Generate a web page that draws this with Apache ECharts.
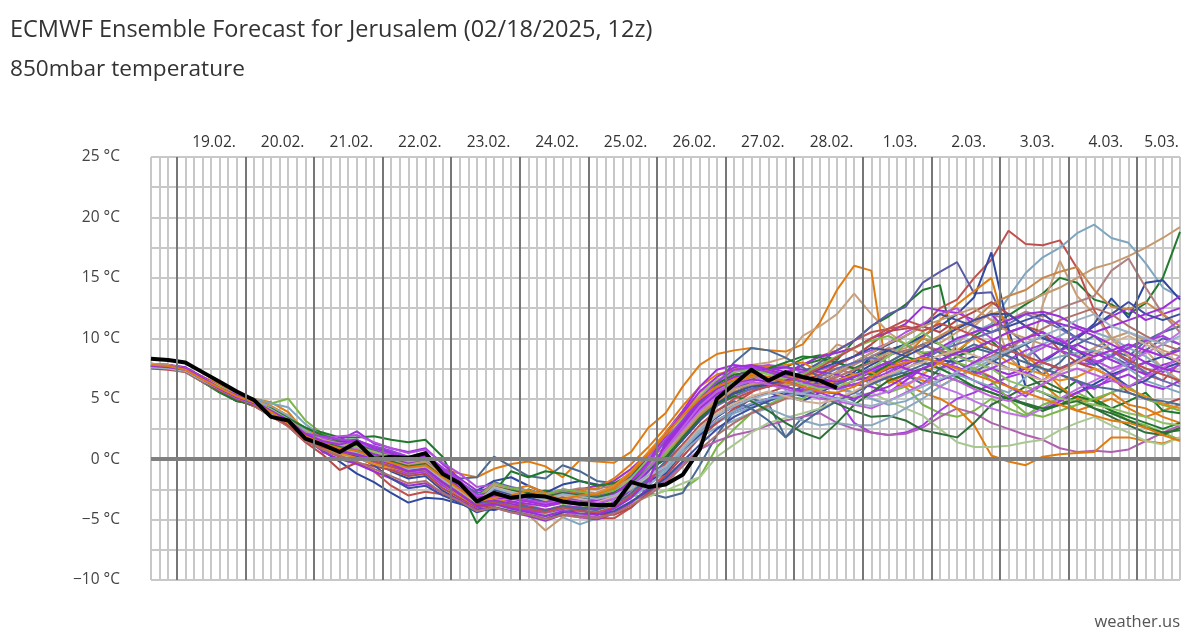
<!DOCTYPE html>
<html><head><meta charset="utf-8">
<style>html,body{margin:0;padding:0;background:#fff}#chart{width:1200px;height:640px}</style>
<script src="https://cdn.jsdelivr.net/npm/echarts@6/dist/echarts.min.js"></script>
</head><body><div id="chart"></div>
<script>
// Hours since 18.02. 00:00 (6-hourly steps)
const hours = [15,21,27,33,39,45,51,57,63,69,75,81,87,93,99,105,111,117,123,129,135,141,147,153,159,165,171,177,183,189,195,201,207,213,219,225,231,237,243,249,255,261,267,273,279,285,291,297,303,309,315,321,327,333,339,345,351,357,363,369,375];
const dayLabels = ['19.02.','20.02.','21.02.','22.02.','23.02.','24.02.','25.02.','26.02.','27.02.','28.02.','1.03.','2.03.','3.03.','4.03.','5.03.'];
const dayLabelHours = [36,60,84,108,132,156,180,204,228,252,276,300,324,348,367.5];
const dayBoundaryHours = [24,48,72,96,120,144,168,192,216,240,264,288,312,336,360];

const control = [8.3,8.2,8.0,7.2,6.4,5.6,4.9,3.5,3.2,1.7, 1.2,0.6,1.4,0.0,0.2,0.1,0.5,-1.2,-2.0,-3.5, -2.8,-3.2,-3.0,-3.1,-3.5,-3.7,-3.8,-3.8,-1.9,-2.3, -2.1,-1.3,0.8,5.0,6.2,7.4,6.5,7.2,6.8,6.5, 5.9];

const m01 = [7.7,7.8,7.5,6.8,6.1,5.4,5.0,4.7,3.9,2.2, 1.4,0.9,1.0,0.5,-0.3,-0.5,-0.2,-0.8,-1.2,-1.5, -0.8,-0.4,-0.2,-0.6,-1.5,-0.1,-0.2,-0.3,0.6,2.6, 3.8,6.0,7.8,8.7,9.0,9.2,9.0,8.9,9.5,11.3, 14.0,16.0,15.6,6.3,7.0,6.5,6.0,6.8,7.5,6.8, 6.0,5.5,6.2,5.0,4.0,4.5,5.0,4.2,3.5,4.0,4.5];
const m02 = [7.6,7.7,7.5,6.7,6.0,5.2,4.8,4.6,5.0,3.2, 2.1,1.6,1.2,0.3,-0.2,-0.6,-0.3,-1.5,-2.3,-3.4, -3.0,-3.6,-3.9,-4.3,-3.8,-4.0,-3.9,-3.5,-3.0,-3.1, -2.6,-2.5,-1.5,1.0,2.5,3.8,4.5,5.2,5.0,5.8, 6.2,7.0,6.5,5.5,6.0,4.5,3.8,3.5,4.0,5.0, 4.2,3.6,4.5,5.0,5.5,4.8,4.0,3.2,2.8,2.2,1.6];
const m03 = [7.9,7.8,7.5,6.6,5.8,5.2,4.7,4.0,3.2,2.0, 1.8,1.5,1.6,1.0,0.6,0.2,0.0,-0.8,-1.6,-1.5, 0.2,-0.6,-1.4,-1.6,-0.5,-1.0,-1.8,-2.0,-2.2,-2.8, -3.2,-2.8,-0.5,2.0,4.0,5.0,4.6,1.8,3.5,4.2, 5.5,4.8,6.5,7.8,7.0,6.2,7.5,8.5,9.2,8.8, 9.5,8.2,7.0,8.0,9.5,10.2,9.0,8.5,9.8,10.5,11.0];
const m04 = [7.8,7.6,7.3,6.5,5.6,4.8,4.6,4.2,3.4,2.6, 2.2,1.8,1.8,1.9,1.6,1.4,1.6,0.2,-2.5,-5.3, -3.8,-3.2,-2.5,-3.0,-3.5,-3.2,-3.8,-3.0,-1.5,0.2, 1.5,3.0,4.5,5.2,6.0,6.5,7.5,7.6,8.3,8.6, 8.2,9.8,11.0,11.8,12.8,14.0,14.4,8.5,9.0,9.8, 8.5,7.0,6.0,5.5,6.5,5.0,4.2,4.8,5.5,4.0,3.8];
const m05 = [7.6,7.6,7.4,6.6,5.9,5.2,4.9,4.1,3.5,2.4, 1.6,1.2,0.9,0.4,0.0,-0.4,-0.1,-1.2,-2.4,-3.6, -2.3,-2.8,-3.0,-2.6,-2.9,-3.1,-3.4,-3.2,-2.2,-1.0, 0.5,2.0,3.6,4.8,5.5,6.2,6.0,7.0,7.8,8.2, 8.0,7.5,8.2,9.0,9.5,10.0,9.5,8.8,10.2,11.0, 11.9,12.8,13.7,15.0,14.6,13.2,12.8,12.0,12.9,15.0,18.8];
const m06 = [7.8,7.7,7.4,6.6,5.8,5.1,4.5,3.5,2.8,1.5, 0.8,0.2,-0.3,-1.0,-2.2,-3.0,-2.7,-2.9,-3.6,-4.2, -3.9,-4.2,-3.8,-4.4,-4.6,-4.7,-4.9,-4.9,-4.0,-2.6, -1.2,0.5,2.2,3.5,4.6,5.5,6.5,7.0,7.8,8.5, 9.0,9.8,10.5,10.8,11.5,11.0,12.5,13.2,15.0,16.5, 18.9,17.8,17.7,18.1,15.8,12.3,10.0,8.5,7.0,6.5,8.0];
const m07 = [7.7,7.6,7.4,6.7,6.1,5.4,5.0,4.6,4.3,2.9, 1.9,1.3,1.1,0.4,0.0,-0.5,-0.8,-1.5,-2.5,-3.4, -3.0,-3.5,-3.8,-4.2,-4.8,-5.4,-4.9,-4.2,-3.0,-2.0, -0.8,0.8,2.0,3.0,3.8,4.3,4.8,5.2,5.6,6.0, 6.5,7.0,6.2,6.8,7.5,8.2,9.0,9.8,10.5,11.2, 13.4,15.4,16.7,17.5,18.7,19.4,18.3,17.9,16.2,14.2,13.4];
const m08 = [7.9,7.8,7.5,6.7,6.0,5.3,4.7,3.9,3.0,1.8, 1.1,0.5,0.2,-0.5,-0.9,-1.3,-1.0,-2.0,-3.0,-4.0, -3.6,-4.2,-4.6,-5.9,-4.8,-4.2,-4.0,-3.6,-2.6,-1.0, 0.8,2.5,4.0,5.3,6.2,6.8,7.2,6.5,7.0,8.0, 9.5,9.0,8.2,8.8,9.2,10.0,9.6,10.5,11.3,12.0, 12.5,13.0,13.6,14.2,15.0,15.8,16.2,16.8,17.5,18.3,19.2];
const m09 = [7.6,7.5,7.3,6.5,5.7,5.0,4.4,3.7,2.8,1.6, 1.0,0.8,0.4,0.1,-0.4,-0.9,-0.6,-1.7,-2.7,-3.5, -3.2,-3.8,-3.4,-3.9,-3.6,-3.3,-3.0,-2.6,-1.2,0.4, 2.0,3.8,5.5,6.5,7.2,7.8,8.0,8.4,10.2,11.0, 12.0,13.7,12.0,10.5,9.5,8.5,7.8,9.5,11.0,12.3, 8.5,7.0,12.8,16.4,13.5,12.0,10.0,8.5,9.0,7.5,6.5];
const m10 = [7.8,7.8,7.6,6.8,6.1,5.5,4.9,4.2,3.4,2.3, 1.6,1.4,1.3,0.8,0.2,-0.4,-0.2,-1.3,-2.2,-3.2, -1.9,-2.3,-2.6,-2.9,-2.6,-2.8,-2.9,-2.4,-1.6,-0.4, 0.8,2.4,3.8,5.0,5.8,6.4,6.0,6.8,7.2,8.0, 9.0,9.8,11.0,12.0,12.6,14.6,15.5,16.3,13.7,13.8, 10.7,9.5,8.0,7.5,8.2,9.0,8.5,7.8,9.0,10.0,9.5];
const m11 = [7.7,7.6,7.3,6.5,5.7,5.0,4.6,3.8,2.9,1.6, 0.7,-0.2,-1.2,-1.9,-2.8,-3.6,-3.2,-3.3,-3.7,-4.1, -4.2,-3.9,-4.4,-4.7,-4.3,-4.0,-4.2,-3.6,-2.5,-1.8, -0.6,1.0,2.5,3.5,4.4,5.0,5.5,5.2,4.8,5.5, 6.2,7.0,7.8,8.5,9.5,10.2,11.0,12.0,13.4,17.1, 10.7,6.0,5.5,4.8,5.5,6.2,7.0,7.5,8.0,8.5,8.0];
const m12 = [7.6,7.7,7.4,6.6,5.8,5.2,4.7,4.0,3.1,1.9, 1.3,0.9,0.6,-0.2,-1.0,-1.6,-1.4,-2.6,-3.4,-2.6, -1.8,-1.5,-2.2,-2.8,-2.1,-1.8,-2.1,-2.4,-2.2,-1.8, -1.2,0.6,2.0,3.2,4.0,4.5,5.0,5.6,5.2,6.0, 6.5,7.2,8.5,9.0,9.5,8.8,8.2,8.0,8.5,8.2, 7.5,7.0,8.0,9.0,10.0,11.2,13.3,11.7,14.6,14.8,13.2];
const m13 = [7.8,7.7,7.5,6.7,5.9,5.2,4.7,4.0,3.2,2.3, 1.8,1.6,2.3,1.3,0.9,0.6,0.9,-0.4,-1.6,-2.6, -2.4,-2.7,-2.9,-3.2,-2.8,-2.5,-2.2,-1.8,-0.8,0.5, 1.8,3.2,4.8,6.0,6.8,7.5,7.6,7.2,7.8,8.5, 8.8,9.2,10.0,10.5,11.2,12.6,12.3,12.1,11.5,12.0, 10.5,11.0,10.0,9.5,10.2,11.0,11.8,12.5,11.5,12.0,12.5];
const m14 = [7.7,7.6,7.4,6.6,5.8,5.1,4.6,3.9,3.1,2.0, 1.0,0.5,0.3,-0.4,-0.8,-1.3,-1.0,-2.2,-3.0,-3.8, -3.5,-3.9,-4.2,-4.5,-4.1,-4.3,-4.6,-4.1,-3.0,-1.6, 1.0,2.6,4.2,5.4,6.2,7.0,7.4,7.0,6.5,6.2, 5.8,6.5,7.2,7.8,8.2,8.0,7.5,8.0,7.2,6.8, 6.0,5.2,6.2,7.0,6.4,5.8,6.8,7.5,8.0,7.2,7.8];
const m15 = [7.6,7.6,7.4,6.6,5.8,5.0,4.5,3.7,2.8,1.7, 1.0,0.5,0.2,-0.3,-0.8,-1.2,-1.0,-2.1,-3.0,-3.9, -3.6,-4.0,-4.3,-4.6,-4.2,-4.4,-4.5,-4.0,-3.0,-1.8, -0.6,0.8,2.2,3.2,4.0,4.6,5.0,5.3,5.8,5.5, 5.0,3.0,2.2,2.0,2.2,2.8,4.0,5.0,5.5,6.2, 6.8,7.2,6.5,7.5,8.0,7.8,8.6,9.5,9.0,8.5,9.2];
const m16 = [7.8,7.6,7.3,6.5,5.8,5.1,4.6,3.8,3.0,1.8, 1.2,0.6,0.3,-0.2,-0.6,-1.1,-0.9,-2.0,-3.1,-4.0, -3.7,-4.2,-4.5,-4.9,-4.4,-4.6,-4.8,-4.4,-3.6,-2.8, -1.8,-0.4,0.8,1.5,2.0,2.3,2.8,3.2,3.5,3.8, 3.0,2.5,2.2,2.0,2.1,2.6,3.5,4.2,3.8,3.0, 2.5,2.0,1.6,0.9,0.6,0.7,0.6,0.8,1.5,2.2,2.8];
const m17 = [7.9,7.7,7.5,6.8,6.2,5.5,4.9,4.2,3.5,2.4, 1.7,1.1,0.8,0.2,-0.4,-0.7,-0.5,-1.6,-2.6,-3.6, -3.4,-3.0,-3.2,-3.6,-3.3,-3.5,-3.2,-2.6,-1.4,0.2, 1.6,3.0,4.6,5.8,6.4,6.8,6.6,6.2,6.8,7.2, 7.5,7.0,6.5,6.8,6.2,5.5,5.0,4.2,2.8,0.3, -0.2,-0.5,0.2,0.4,0.5,0.6,1.8,1.8,1.5,1.3,1.8];
const m18 = [7.5,7.5,7.3,6.5,5.8,5.1,4.6,3.9,3.0,1.8, 1.0,0.4,0.1,-0.4,-0.9,-1.4,-1.2,-2.4,-3.2,-4.0, -3.8,-4.2,-4.5,-4.6,-4.3,-4.4,-4.6,-4.2,-3.6,-3.1, -2.6,-2.0,-1.5,0.2,1.2,2.2,3.0,3.4,3.8,4.2, 4.8,5.2,5.5,4.8,4.2,3.6,2.5,1.4,1.0,1.0, 1.1,1.4,1.6,2.4,3.0,3.5,2.8,2.2,1.5,1.2,1.8];
const m19 = [7.7,7.6,7.3,6.4,5.6,4.9,4.4,3.6,2.9,1.9, 1.3,0.7,0.5,0.0,-0.5,-1.0,-0.7,-1.9,-2.8,-3.8, -2.5,-2.9,-3.1,-3.5,-3.0,-3.2,-3.4,-2.8,-1.8,-0.6, 0.2,1.8,3.4,4.6,5.4,5.8,6.2,6.0,5.6,5.2, 4.6,4.0,3.5,3.6,3.2,2.4,2.1,1.8,3.0,4.5, 5.2,6.0,6.5,5.8,5.0,4.2,3.5,2.8,2.2,2.0,2.6];
const m20 = [7.8,7.7,7.4,6.6,5.9,5.3,4.8,4.0,3.1,2.0, 1.4,1.0,0.8,0.2,-0.2,-0.7,-0.4,-1.5,-2.4,-3.3, -2.0,-2.4,-2.6,-3.0,-2.7,-2.4,-2.5,-2.1,-1.2,0.0, 1.0,2.8,4.4,5.6,6.5,7.0,6.6,6.0,5.5,6.2, 7.0,7.8,8.5,9.2,8.8,9.5,10.0,10.8,11.5,12.0, 11.5,12.2,11.8,12.5,13.0,13.5,15.6,16.6,14.2,12.0,10.5];
const m21 = [7.6,7.6,7.4,6.7,6.0,5.3,4.9,4.4,3.6,2.5, 1.9,1.4,1.1,0.7,0.2,-0.3,-0.2,-1.0,-2.2,-3.0, -2.8,-2.5,-2.2,-2.8,-3.0,-2.6,-2.4,-1.6,-0.4,1.0, 2.6,4.4,6.0,7.0,7.4,7.8,7.6,7.8,8.0,7.2, 6.5,6.0,7.0,7.5,8.5,10.0,11.5,12.8,13.9,15.0, 10.0,8.5,7.5,6.0,5.0,4.8,5.5,4.5,4.2,3.5,3.0];
const m22 = [7.7,7.8,7.5,6.7,6.0,5.4,4.8,4.1,3.3,2.1, 1.5,1.1,0.9,0.3,-0.1,-0.6,-0.4,-1.4,-2.5,-3.6, -2.2,-2.7,-2.9,-3.1,-2.8,-3.0,-3.1,-2.7,-1.8,-0.6, 0.4,2.0,3.6,4.8,5.6,6.0,6.4,6.8,6.5,6.0, 6.2,6.8,7.5,8.0,8.8,9.5,10.2,11.0,11.5,12.8, 13.5,14.0,15.0,15.5,15.9,14.0,12.6,12.4,13.0,12.0,11.0];
const m23 = [7.8,7.7,7.5,6.7,5.9,5.3,4.8,4.1,3.3,2.1, 1.6,1.4,1.2,0.8,0.3,0.0,0.4,-0.8,-1.9,-2.8, -2.5,-2.9,-3.2,-3.4,-3.0,-3.2,-3.0,-2.5,-1.4,0.0, 1.4,3.0,4.6,6.2,8.0,9.2,9.0,8.4,7.6,6.8, 6.2,6.8,7.5,8.0,8.8,9.5,8.8,8.0,7.2,8.0, 8.8,9.5,10.2,9.6,8.5,7.8,8.6,9.2,10.0,8.5,9.2];
const m24 = [7.6,7.7,7.5,6.7,5.9,5.2,4.7,3.9,3.1,2.1, 1.7,1.9,2.0,1.4,0.9,0.5,0.8,-0.3,-1.2,-2.3, -2.1,-2.4,-2.6,-2.9,-2.5,-2.7,-2.8,-2.3,-1.2,0.2, 1.6,3.2,5.0,6.2,7.2,7.6,7.8,7.6,7.2,7.4, 7.8,8.5,9.0,9.6,10.5,11.2,12.0,12.5,11.0,10.0, 9.0,8.5,9.2,10.0,9.0,8.2,7.5,8.0,9.5,10.5,11.5];
const m25 = [7.5,7.4,7.2,6.4,5.6,4.9,4.4,3.6,2.7,1.4, 0.4,-0.9,-0.3,-0.6,-0.9,-1.4,-1.2,-2.4,-3.2,-4.0, -3.8,-3.5,-3.9,-4.2,-3.9,-4.2,-4.5,-4.6,-4.0,-2.8, -1.4,0.2,1.8,3.0,4.2,5.0,5.5,6.0,6.5,7.0, 7.8,8.5,9.5,10.6,10.8,11.0,10.5,11.5,12.2,13.0, 12.0,11.0,10.5,9.0,8.0,7.5,6.8,5.5,5.0,4.5,5.0];
const m26 = [7.7,7.6,7.4,6.6,5.8,5.2,4.7,4.0,3.1,2.0, 0.6,0.0,-0.4,-1.0,-1.6,-2.2,-2.0,-2.8,-3.4,-4.2, -4.0,-4.4,-4.7,-5.1,-4.6,-4.8,-5.0,-4.5,-3.6,-2.4, 1.2,2.8,4.5,5.8,6.6,7.2,7.4,7.6,7.4,7.2, 7.0,6.5,6.8,7.5,8.0,8.5,9.0,8.6,8.0,7.5, 7.0,7.5,8.2,9.0,9.5,8.8,8.2,7.6,7.0,7.8,8.2];
const m27 = [7.7,7.6,7.4,6.6,5.9,5.3,4.9,4.3,3.6,2.4, 1.6,1.1,0.8,0.2,-0.3,-0.8,-0.6,-1.8,-2.8,-3.7, -3.4,-3.8,-4.0,-4.4,-4.0,-4.6,-4.4,-4.0,-3.2,-2.2, -1.0,0.6,1.8,2.6,3.2,3.8,4.2,3.6,3.2,2.8, 3.0,2.8,2.8,3.4,4.2,5.0,6.0,6.8,7.5,8.2, 9.0,8.5,9.5,10.2,11.0,10.5,10.0,9.2,8.5,7.5,6.2];
const m28 = [7.8,7.8,7.6,6.8,6.0,5.3,4.8,4.0,3.2,2.1, 1.2,0.8,0.9,0.2,-0.2,-0.8,-0.5,-1.6,-2.6,-3.4, -3.1,-3.5,-3.7,-3.9,-3.6,-3.8,-3.7,-3.3,-2.2,-0.6, 2.2,4.0,6.0,7.4,7.8,7.6,7.2,7.0,6.8,6.2, 5.8,6.2,6.0,5.5,6.5,7.5,8.0,7.2,6.5,5.8, 5.2,4.5,4.0,4.8,5.5,6.0,6.5,7.0,6.2,5.8,6.5];
const m29 = [7.6,7.5,7.3,6.4,5.5,4.8,4.6,4.2,3.4,2.6, 2.0,1.5,1.4,0.9,0.4,-0.1,0.2,-1.0,-2.0,-3.0, -2.7,-1.0,-1.5,-1.0,-1.2,-1.8,-2.2,-2.0,-1.2,0.0, 1.5,3.2,5.0,6.2,7.0,7.2,7.5,8.0,8.5,8.4, 8.0,7.5,7.0,7.8,8.5,8.0,7.5,6.8,6.0,5.5, 5.0,4.5,4.0,4.5,5.2,4.8,4.0,3.5,3.0,2.5,3.0];
const m30 = [7.8,7.6,7.3,6.5,5.7,5.0,4.5,3.7,2.9,1.7, 1.0,0.5,0.2,-0.5,-1.6,-2.4,-2.2,-3.0,-3.6,-4.4, -4.0,-4.3,-4.6,-5.0,-4.4,-4.2,-4.6,-4.3,-3.5,-2.6, -1.6,-0.2,1.2,2.5,3.5,4.2,4.8,5.4,6.0,6.5, 7.2,8.0,8.8,9.5,10.2,11.0,12.0,11.5,11.0,10.5, 11.0,11.5,12.0,11.0,10.0,11.0,12.0,13.0,12.0,11.5,12.0];
const m31 = [7.6,7.6,7.4,6.6,5.9,5.2,4.7,4.0,3.2,2.1, 1.5,1.2,0.9,0.4,0.0,-0.4,-0.2,-1.2,-2.2,-3.2, -2.0,-2.4,-2.6,-2.9,-2.5,-2.7,-2.9,-2.6,-1.8,-0.6, 0.4,2.2,4.0,5.6,6.4,7.0,7.2,6.8,7.0,7.8, 8.5,9.2,9.8,10.2,9.5,8.8,9.0,8.0,7.5,6.5, 5.0,3.8,3.5,4.0,4.5,5.0,5.5,6.0,5.0,4.5,4.0];
const m32 = [7.7,7.6,7.3,6.5,5.7,5.0,4.6,3.8,2.8,1.6, 0.9,0.5,0.1,-0.4,-0.7,-1.0,-0.8,-1.9,-3.0,-3.9, -3.6,-3.2,-3.5,-3.8,-3.4,-3.0,-2.8,-2.2,-1.0,0.6, 2.2,3.8,5.2,6.0,6.6,7.0,7.4,7.0,6.5,6.0, 6.5,7.0,7.2,6.5,6.0,7.0,8.0,9.0,10.0,9.0, 8.0,7.5,7.0,6.5,6.8,7.5,6.8,5.8,5.2,4.6,4.2];
const m33 = [7.9,7.8,7.5,6.7,6.0,5.3,4.8,4.1,3.3,2.2, 1.6,1.3,1.0,0.5,0.0,-0.4,-0.2,-1.3,-2.4,-3.4, -2.1,-2.6,-2.9,-3.2,-2.8,-3.0,-2.8,-2.4,-1.6,-0.4, 0.6,2.2,3.8,5.0,5.8,6.2,6.4,6.2,6.0,6.6, 7.2,8.0,8.8,9.6,10.2,11.0,11.5,12.0,12.5,11.5, 10.5,10.0,9.5,9.0,8.5,9.2,10.0,10.5,9.8,9.0,8.5];
const m34 = [7.7,7.7,7.5,6.7,6.0,5.2,4.7,3.9,3.1,2.0, 1.4,1.1,0.9,0.6,0.2,-0.2,0.0,-1.0,-2.0,-3.0, -2.8,-3.1,-3.4,-3.6,-3.3,-3.4,-3.6,-3.2,-2.0,-0.8, 0.8,2.4,4.0,5.2,6.0,6.5,6.8,6.5,6.2,6.0, 5.8,5.5,5.2,5.6,6.2,6.8,6.0,5.5,4.8,4.2, 3.8,3.5,4.2,5.0,5.8,6.5,7.2,8.0,8.8,9.5,10.5];
const m35 = [7.8,7.7,7.4,6.6,5.8,5.1,4.6,3.9,3.0,1.9, 1.2,0.8,0.6,0.0,-0.4,-0.9,-0.7,-1.8,-2.8,-3.6, -2.3,-2.7,-2.8,-3.2,-2.8,-2.9,-3.1,-2.8,-2.0,-0.9, 0.0,1.6,3.2,4.4,5.2,5.8,6.0,6.4,6.2,6.8, 7.5,8.0,8.4,8.0,7.5,8.2,9.0,9.5,10.0,10.5, 11.2,12.0,11.5,10.8,10.0,9.5,9.0,8.0,7.2,6.5,6.0];
const m36 = [7.6,7.5,7.2,6.4,5.6,4.9,4.4,3.6,2.7,1.5, 0.8,0.3,-0.2,-0.8,-1.4,-2.0,-1.8,-2.8,-3.5,-4.3, -4.0,-4.4,-4.6,-5.0,-4.6,-4.8,-4.9,-4.5,-3.8,-3.0, -2.0,-0.6,0.8,2.0,3.0,3.8,4.4,5.0,5.6,6.2, 6.8,7.4,8.0,8.6,9.0,9.4,9.0,8.5,8.0,8.5, 9.2,10.0,10.8,11.5,12.0,12.5,12.0,11.0,10.2,9.5,9.0];
const m37 = [7.7,7.7,7.4,6.6,5.8,5.1,4.6,3.8,3.0,1.9, 1.0,0.9,1.1,0.4,0.1,-0.3,0.0,-1.1,-2.4,-3.6, -3.4,-3.7,-4.0,-4.2,-3.9,-4.0,-4.1,-3.6,-2.5,-1.0, 1.0,2.6,4.2,5.4,6.2,6.6,6.4,6.0,5.6,5.2, 5.0,5.5,6.2,7.0,7.8,8.5,9.2,10.0,10.5,11.0, 11.5,12.0,12.2,11.8,11.0,10.5,11.0,11.5,12.0,12.5,13.5];
const m38 = [7.6,7.6,7.4,6.6,5.9,5.2,4.7,4.1,3.3,2.1, 1.4,1.0,0.7,0.1,-0.3,-0.8,-0.6,-1.6,-2.6,-3.6, -2.4,-2.8,-3.1,-3.4,-3.0,-3.3,-3.6,-3.2,-2.5,-1.6, -0.8,0.8,2.2,3.2,4.0,4.6,5.0,5.2,5.5,5.8, 6.0,5.5,5.0,4.5,4.8,5.5,6.5,7.0,6.5,6.0, 5.5,6.8,8.0,8.5,8.8,9.0,8.6,7.5,6.5,6.0,5.5];
const m39 = [7.8,7.7,7.5,6.7,6.0,5.3,4.8,4.1,3.2,2.1, 1.5,1.2,1.0,0.6,0.2,-0.2,0.0,-1.0,-2.1,-3.1, -2.8,-3.2,-3.4,-3.8,-3.4,-3.6,-3.4,-2.8,-1.6,0.0, 1.6,3.4,5.2,6.6,7.2,7.4,7.0,6.6,6.2,5.8, 6.0,6.5,7.5,8.5,9.5,10.5,9.5,8.5,8.0,7.5, 6.5,6.0,5.5,5.0,4.8,4.5,4.2,3.8,3.5,3.0,2.8];
const m40 = [7.7,7.6,7.3,6.5,5.7,5.0,4.6,3.8,3.0,1.8, 1.1,0.7,0.4,-0.1,-0.6,-1.0,-0.8,-1.9,-2.9,-3.8, -2.5,-2.9,-3.2,-3.5,-3.1,-3.4,-3.2,-2.8,-2.0,-0.9, 0.0,1.6,3.2,4.6,5.5,6.0,6.2,6.5,6.8,7.5, 8.0,8.5,9.2,9.0,8.5,9.2,10.0,10.8,11.5,12.0, 12.0,11.0,10.0,9.5,9.0,8.0,7.0,6.0,6.5,7.5,8.0];
const m41 = [7.8,7.7,7.5,6.7,5.9,5.2,4.7,4.0,3.2,2.1, 1.9,1.6,1.5,1.1,0.7,0.2,0.4,-0.7,-1.8,-3.0, -2.7,-3.1,-3.4,-3.6,-3.2,-3.5,-3.6,-3.1,-2.0,-0.4, 1.6,3.2,5.0,6.4,7.4,7.6,7.2,6.8,6.4,6.0, 5.8,6.2,6.6,7.2,8.0,8.4,8.0,7.6,7.0,7.5, 8.2,9.0,9.5,9.0,8.5,8.0,8.5,9.2,9.8,10.2,9.5];
const m42 = [7.6,7.6,7.3,6.5,5.7,5.0,4.6,3.8,2.9,1.8, 1.2,0.9,0.6,0.0,-0.5,-0.9,-0.7,-1.8,-2.8,-3.8, -3.5,-3.9,-4.0,-4.3,-3.9,-4.1,-4.2,-3.8,-2.8,-1.6, -0.2,1.2,2.8,4.0,4.8,4.2,3.2,1.8,3.0,4.0, 4.8,5.5,6.2,6.8,7.2,7.8,8.2,8.8,9.5,9.0, 8.5,8.0,7.5,7.0,6.5,6.0,5.8,5.5,5.0,4.8,4.5];
const m43 = [7.7,7.6,7.3,6.5,5.6,4.8,4.5,3.9,3.1,2.0, 1.4,1.0,0.7,0.2,-0.2,-0.6,-0.4,-1.5,-2.5,-3.5, -2.3,-2.6,-2.8,-3.1,-2.8,-3.0,-3.2,-2.8,-2.0,-0.8, 0.0,1.8,3.4,4.6,5.2,4.8,4.0,3.0,2.2,1.7, 3.0,4.5,5.5,6.5,7.0,7.5,7.0,6.5,6.0,5.5, 5.0,4.6,4.2,4.5,4.8,4.2,3.8,3.2,2.6,2.2,2.4];
const m44 = [7.6,7.6,7.4,6.6,5.8,5.1,4.6,3.9,3.0,2.0, 1.4,1.3,1.4,0.9,0.4,0.0,0.2,-0.9,-2.0,-3.1, -2.9,-3.2,-3.5,-3.7,-3.4,-3.5,-3.6,-3.3,-2.2,-0.8, 0.8,2.6,4.4,5.6,6.2,6.4,6.2,5.8,5.4,5.0, 4.8,4.5,4.2,4.8,5.5,6.2,7.0,6.5,5.8,5.2, 4.8,5.5,6.2,7.0,7.5,7.0,6.5,6.0,6.8,7.5,8.5];
const m45 = [7.7,7.6,7.3,6.5,5.7,5.0,4.5,3.7,2.8,1.7, 1.0,0.6,0.4,-0.2,-0.6,-1.0,-0.8,-1.8,-2.8,-3.8, -3.6,-3.9,-4.1,-4.4,-4.0,-4.3,-4.4,-4.0,-3.0,-1.8, -0.4,1.2,2.8,4.0,5.0,5.6,6.0,6.4,6.8,7.6, 8.4,9.2,10.0,10.8,11.0,10.6,11.2,10.8,10.2,9.5, 9.0,8.5,8.0,7.5,8.0,8.5,9.0,8.2,7.5,7.0,6.5];
const m46 = [7.8,7.7,7.4,6.6,5.8,5.1,4.6,3.9,3.0,1.9, 1.2,0.8,0.5,0.0,-0.4,-0.8,-0.6,-1.6,-2.6,-3.6, -2.3,-2.7,-3.0,-3.4,-3.0,-3.3,-3.5,-3.1,-2.4,-1.4, -0.6,1.0,2.6,3.8,4.6,5.2,5.6,5.2,4.8,4.6, 5.0,5.6,6.4,7.0,7.6,8.0,8.6,9.0,8.6,8.0, 7.5,7.0,6.5,7.2,8.0,8.8,9.6,10.2,9.5,8.8,8.0];
const m47 = [7.7,7.7,7.5,6.7,5.9,5.3,4.8,4.0,3.2,2.1, 1.5,1.2,1.6,0.9,0.5,0.0,0.3,-0.9,-2.1,-3.2, -3.0,-3.3,-3.5,-3.8,-3.5,-3.6,-3.4,-2.9,-1.8,-0.2, 2.0,3.8,5.6,6.8,7.6,7.8,7.4,7.0,6.8,6.6, 6.4,6.8,7.4,8.0,7.5,7.0,6.5,7.2,8.0,8.8, 9.5,10.0,10.5,9.8,9.0,8.5,9.0,9.5,9.0,8.5,9.0];
const m48 = [7.6,7.5,7.3,6.5,5.8,5.1,4.6,3.8,3.0,1.9, 1.2,0.8,0.5,0.0,-0.4,-0.8,-0.6,-1.7,-2.6,-3.6, -2.4,-2.8,-3.0,-3.3,-2.9,-3.1,-3.3,-3.0,-2.3,-1.3, -0.6,0.9,2.4,3.6,4.4,5.0,5.4,5.6,5.4,5.2, 5.0,4.6,4.4,4.8,5.4,6.0,6.6,7.2,7.8,8.4, 9.0,9.6,10.2,10.8,11.5,12.0,11.0,10.5,10.0,9.5,10.2];
const m49 = [7.7,7.6,7.4,6.6,5.8,5.1,4.6,3.9,3.1,2.0, 1.3,0.7,0.4,0.0,-0.4,-1.0,-0.8,-1.9,-2.9,-3.9, -3.7,-4.1,-4.4,-4.7,-4.3,-4.5,-4.6,-4.1,-3.2,-1.8, 1.4,3.0,4.8,6.0,6.8,7.0,6.8,6.4,6.0,5.6, 5.4,5.0,5.5,6.0,6.8,7.5,8.2,8.8,9.2,9.8, 10.5,11.0,11.5,11.2,10.8,10.2,9.5,8.8,8.0,7.5,7.2];
const m50 = [7.8,7.7,7.4,6.6,5.9,5.2,4.7,3.9,3.0,1.9, 1.3,0.9,0.7,0.1,-0.3,-0.7,-0.5,-1.5,-2.5,-3.5, -3.2,-3.0,-2.6,-3.0,-3.3,-3.0,-2.9,-2.4,-1.2,0.4, 2.0,3.6,5.0,6.0,6.6,7.0,6.8,6.4,6.0,5.6, 5.5,6.0,6.8,7.6,8.0,8.4,8.0,7.5,7.0,6.5, 6.0,5.5,5.0,4.5,4.0,3.6,3.2,3.0,2.6,2.0,1.5];

const members = [m01,m02,m03,m04,m05,m06,m07,m08,m09,m10,m11,m12,m13,m14,m15,m16,m17,m18,m19,m20,m21,m22,m23,m24,m25,m26,m27,m28,m29,m30,m31,m32,m33,m34,m35,m36,m37,m38,m39,m40,m41,m42,m43,m44,m45,m46,m47,m48,m49,m50];
const memberColors = ['#e07b10','#7ab648','#4a6a94','#1e7a2a','#237a2e','#c0504d','#7fa6c0','#c49a70','#c8a07a','#5a5aa8',
  '#2f48a0','#2f48a0','#9b30d9','#a040e0','#a83ae8','#b060b0','#e07b10','#a8c890','#2f6e3a','#b08080',
  '#e07b10','#c8884a','#4a6a94','#b450e0','#b84848','#9b30d9','#8aa8c0','#a42ee0','#1e7a2a','#3b4ea0',
  '#7ab648','#e88a1a','#c49a70','#c070e8','#6a6ab8','#b0706a','#9b30d9','#7fa6c0','#8cc060','#3b4ea0',
  '#a040e0','#4a6a94','#2a7032','#c060e0','#c0504d','#d0b090','#a42ee0','#9ab0c8','#9b30d9','#e07b10'];

const FONT = '"Open Sans", "Noto Sans", "DejaVu Sans", sans-serif';
const chart = echarts.init(document.getElementById('chart'), null, {renderer: 'canvas'});

const series = [];
series.push({
  type: 'line', name: 'frame', data: [], z: 1, silent: true, animation: false,
  markLine: {
    silent: true, symbol: ['none', 'none'], animation: false,
    label: {show: false},
    data: dayBoundaryHours.map(h => ({xAxis: h, lineStyle: {color: '#777777', width: 2, type: 'solid'}}))
      .concat([{yAxis: 0, lineStyle: {color: '#808080', width: 4, type: 'solid'}}])
  }
});
members.forEach((m, i) => {
  series.push({
    type: 'line', name: 'member' + (i + 1), z: 2, silent: true, animation: false,
    data: m.map((v, j) => [hours[j], v]),
    showSymbol: false, symbol: 'none',
    lineStyle: {width: 2, color: memberColors[i]},
    itemStyle: {color: memberColors[i]}
  });
});
series.push({
  type: 'line', name: 'control', z: 3, silent: true, animation: false,
  data: control.map((v, j) => [hours[j], v]),
  showSymbol: false, symbol: 'none',
  lineStyle: {width: 4, color: '#000000', join: 'round'},
  itemStyle: {color: '#000000'}
});

chart.setOption({
  backgroundColor: '#ffffff',
  animation: false,
  title: [
    {text: 'ECMWF Ensemble Forecast for Jerusalem (02/18/2025, 12z)', left: 5, top: 13,
     textStyle: {fontFamily: FONT, fontSize: 23.5, fontWeight: 'normal', color: '#333333'}},
    {text: '850mbar temperature', left: 5, top: 53,
     textStyle: {fontFamily: FONT, fontSize: 22.6, fontWeight: 'normal', color: '#333333'}}
  ],
  graphic: [{
    type: 'text', right: 20, top: 614,
    style: {text: 'weather.us', fontFamily: FONT, fontSize: 16.5, fill: '#555555'}
  }],
  grid: {left: 151, right: 20, top: 157, bottom: 60, containLabel: false},
  xAxis: [
    {type: 'value', min: 15, max: 375, interval: 3, position: 'bottom',
     axisLine: {show: false}, axisTick: {show: false}, axisLabel: {show: false},
     splitLine: {show: true, lineStyle: {color: '#c8c8c8', width: 2}}},
    {type: 'value', min: 15, max: 375, position: 'top',
     axisLine: {show: false}, axisTick: {show: false}, splitLine: {show: false},
     axisLabel: {show: true, customValues: dayLabelHours,
       formatter: v => { const i = dayLabelHours.indexOf(v); return i >= 0 ? dayLabels[i] : ''; },
       color: '#333333', fontSize: 15.5, fontFamily: FONT, margin: 6, padding: [0, 0, 0, 6]}}
  ],
  yAxis: {
    type: 'value', min: -10, max: 25, interval: 2.5,
    axisLine: {show: false}, axisTick: {show: false},
    splitLine: {show: true, lineStyle: {color: '#c8c8c8', width: 2}},
    axisLabel: {
      margin: 31, color: '#444444', fontSize: 15.5, fontFamily: FONT,
      formatter: v => (v % 5 === 0) ? (v < 0 ? '\u2212' + Math.abs(v) : String(v)) + ' °C' : ''
    }
  },
  series: series
});
</script>
</body></html>
